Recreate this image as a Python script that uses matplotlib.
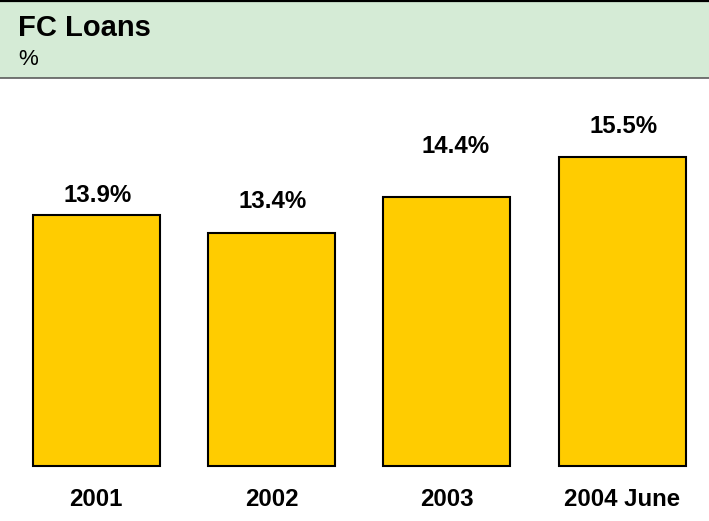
import matplotlib.pyplot as plt
from matplotlib.patches import Rectangle
from matplotlib.lines import Line2D

plt.rcParams['font.family'] = ['Liberation Sans', 'DejaVu Sans']

periods = ["2001", "2002", "2003", "2004 June"]
fc_share = [13.9, 13.4, 14.4, 15.5]
value_labels = ["13.9%", "13.4%", "14.4%", "15.5%"]

# value axis does not start at zero
base = 6.947

# label nudges above each bar top, in points (x, y)
label_offsets = [(1, 9), (1, 18), (6, 32), (1, 17.7)]

W, H = 709, 521
fig = plt.figure(figsize=(W / 100, H / 100), dpi=100)
fig.patch.set_facecolor("white")

# green header band with rules
fig.patches.append(Rectangle((0, 1 - 78 / H), 1, 77 / H, transform=fig.transFigure,
                             facecolor="#d5ebd6", edgecolor="none", zorder=0))
fig.lines.append(Line2D([0, 1], [1 - 1 / H, 1 - 1 / H], transform=fig.transFigure,
                        color="black", lw=1.6))
fig.lines.append(Line2D([0, 1], [1 - 77.5 / H, 1 - 77.5 / H], transform=fig.transFigure,
                        color="#505050", lw=1.1))
fig.text(18 / W, 1 - 35.7 / H, "FC Loans", fontsize=21, fontweight="bold", va="baseline")
fig.text(18 / W, 1 - 65 / H, "%", fontsize=16, va="baseline")

bottom = 1 - 465.7 / H
top = 1 - 78 / H
ax = fig.add_axes([0, bottom, 1, top - bottom])
x = range(len(periods))
bars = ax.bar(x, [v - base for v in fc_share], width=0.724, bottom=base,
              color="#ffcc00", edgecolor="black", linewidth=1.5)
for b in bars:
    b.set_clip_on(False)
ax.set_xlim(-0.548, 3.494)
ax.set_ylim(base, base + 387.7 / 36.06)

for i, (v, lab) in enumerate(zip(fc_share, value_labels)):
    dx, dy = label_offsets[i]
    ax.annotate(lab, (i, v), xytext=(dx, dy), textcoords="offset points",
                ha="center", va="baseline", fontsize=17.3, fontweight="bold")

ax.set_xticks(list(x))
ax.set_xticklabels(periods, fontsize=17.3, fontweight="bold")
ax.tick_params(axis="x", length=0, pad=16.2)
ax.set_yticks([])
for s in ax.spines.values():
    s.set_visible(False)
ax.patch.set_alpha(0)

fig.savefig("out.png", dpi=100)
